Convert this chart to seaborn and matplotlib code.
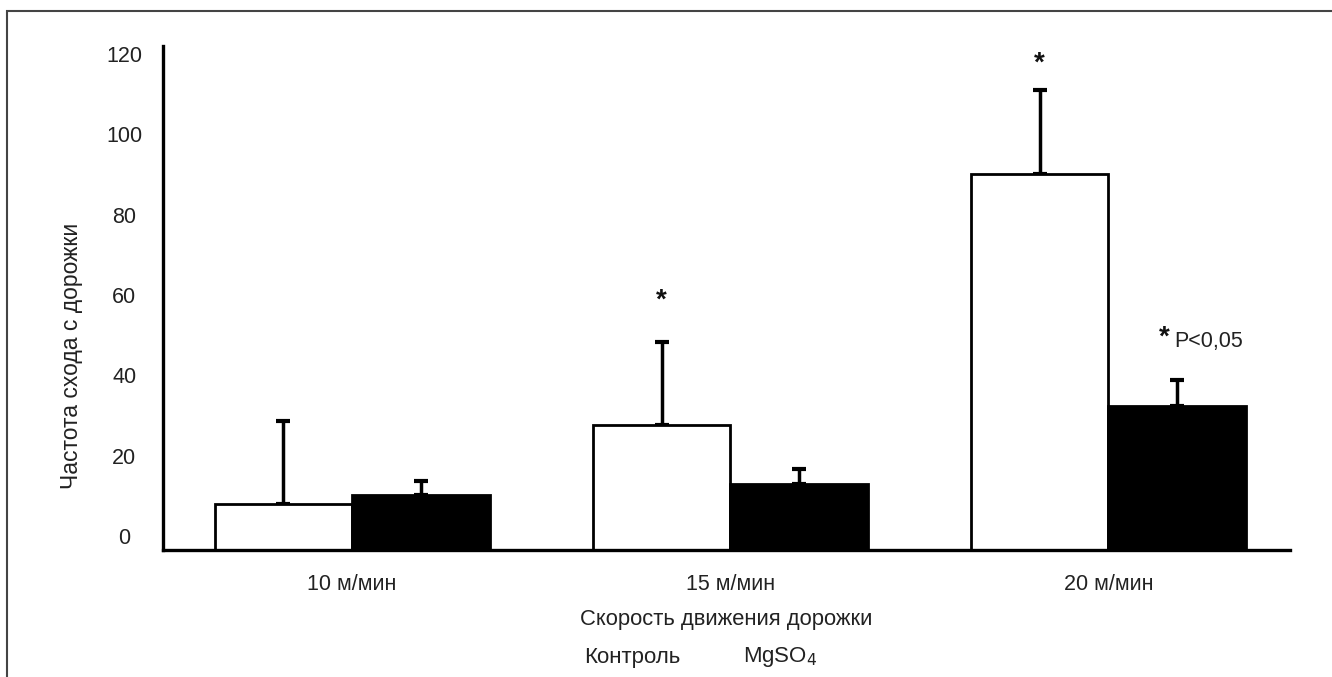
import pandas as pd
import numpy as np
import matplotlib
matplotlib.use("Agg")
import matplotlib.pyplot as plt
import matplotlib.transforms as mtransforms
from matplotlib.patches import Rectangle
import seaborn as sns

# data
speeds = ["10 м/мин", "15 м/мин", "20 м/мин"]
groups = ["Контроль", "MgSO$_4$"]
control_mean = [11.5, 31.1, 93.6]
control_err = [20.6, 20.7, 21.0]
mgso4_mean = [13.7, 16.4, 35.9]
mgso4_err = [3.5, 3.8, 6.4]
yticks = [0, 20, 40, 60, 80, 100, 120]

sns.set_theme(style="white")
plt.rcParams["font.family"] = ["Liberation Sans", "DejaVu Sans"]

df = pd.DataFrame({
    "speed": speeds * 2,
    "group": [groups[0]] * 3 + [groups[1]] * 3,
    "value": control_mean + mgso4_mean,
})

fig = plt.figure(figsize=(13.32, 6.77), dpi=100)
ax = fig.add_axes([163 / 1332, 1 - 550 / 677, (1290 - 163) / 1332, (550 - 46) / 677])

sns.barplot(data=df, x="speed", y="value", hue="group", order=speeds, hue_order=groups,
            palette=["white", "black"], edgecolor="black", linewidth=2,
            width=0.727, errorbar=None, legend=False, ax=ax, zorder=2)

# one-sided error bars on top of each bar
errs = {groups[0]: control_err, groups[1]: mgso4_err}
bars = [p for p in ax.patches if p.get_height() > 0]
bars = sorted(bars, key=lambda p: p.get_x())
for i, p in enumerate(bars):
    g = groups[i % 2]
    e = errs[g][i // 2]
    xc = p.get_x() + p.get_width() / 2
    ax.errorbar(xc, p.get_height(), yerr=[[0], [e]], fmt="none", ecolor="black",
                elinewidth=2.5, capsize=5, capthick=3, zorder=1)

ax.set_xlim(-0.5, 2.48)
ax.set_ylim(0, 125.5)
ax.set_yticks(yticks)
ax.set_yticklabels([str(t) for t in yticks])
for s in ["top", "right"]:
    ax.spines[s].set_visible(False)
for s in ["left", "bottom"]:
    ax.spines[s].set_color("black")
    ax.spines[s].set_linewidth(2.4)
ax.tick_params(axis="both", length=0, labelsize=15.5, colors="#222222")
ax.tick_params(axis="y", pad=28)
ax.tick_params(axis="x", pad=17)
# the printed tick labels sit a little above their grid values
off = mtransforms.ScaledTranslation(0, 14 / 100, fig.dpi_scale_trans)
for lab in ax.get_yticklabels():
    lab.set_horizontalalignment("center")
    lab.set_transform(lab.get_transform() + off)

ax.set_xlabel("Скорость движения дорожки", fontsize=15.8, color="#222222", labelpad=10)
ax.set_ylabel("Частота схода с дорожки", fontsize=16.5, color="#222222")
ax.yaxis.set_label_coords(-0.071, 0.385)

# significance marks
star = dict(ha="center", va="center", fontsize=20, fontweight="bold", color="#111111")
ax.text(bars[2].get_x() + bars[2].get_width() / 2, 62, "*", **star)
ax.text(bars[4].get_x() + bars[4].get_width() / 2, 121, "*", **star)
ax.text(2.148, 53, "*", **star)
ax.text(2.175, 51.8, "P<0,05", ha="left", va="center", fontsize=15.5, color="#222222")

# legend labels
fig.text(632 / 1332, 1 - 657 / 677, groups[0], ha="center", va="center", fontsize=16, color="#222222")
fig.text(780 / 1332, 1 - 657 / 677, groups[1], ha="center", va="center", fontsize=16, color="#222222")

# outer frame, cut at right and bottom
fig.patches.append(Rectangle((7 / 1332, -0.05), 1.1, 1 - 11 / 677 + 0.05, transform=fig.transFigure,
                             fill=False, edgecolor="#444444", linewidth=1.5))

fig.savefig("out.png", dpi=100)
